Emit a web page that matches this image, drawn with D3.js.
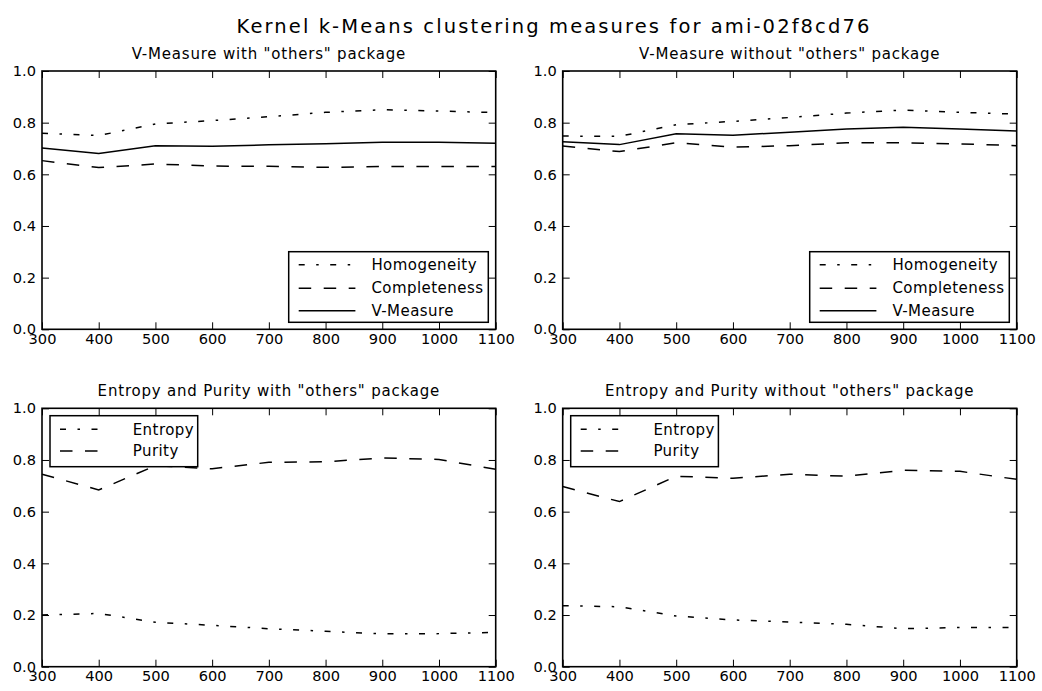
<!DOCTYPE html>
<html lang="en">

<head>
    <meta charset="UTF-8">
    <script src="https://d3js.org/d3.v7.min.js"></script>
    <title>Kernel k-Means clustering measures</title>
    <style>
        body { margin: 0; background: #fff; }
        text { font-family: "DejaVu Sans", sans-serif; fill: #000; }
    </style>
</head>

<body>
    <div id="chart"></div>

    <script>
        // x values (number of clusters / sizes)
        var xValues = [300, 400, 500, 600, 700, 800, 900, 1000, 1100];
        var xTicks = [300, 400, 500, 600, 700, 800, 900, 1000, 1100];
        var yTicks = [0.0, 0.2, 0.4, 0.6, 0.8, 1.0];

        // V-Measure with "others" package
        var homWith = [0.759, 0.750, 0.795, 0.808, 0.823, 0.840, 0.850, 0.845, 0.839];
        var compWith = [0.653, 0.626, 0.640, 0.632, 0.631, 0.627, 0.630, 0.630, 0.630];
        var vmWith = [0.702, 0.681, 0.711, 0.709, 0.714, 0.718, 0.724, 0.724, 0.720];

        // V-Measure without "others" package
        var homWithout = [0.748, 0.747, 0.792, 0.805, 0.820, 0.837, 0.849, 0.840, 0.833];
        var compWithout = [0.710, 0.688, 0.722, 0.705, 0.711, 0.722, 0.722, 0.718, 0.711];
        var vmWithout = [0.726, 0.715, 0.757, 0.751, 0.763, 0.775, 0.782, 0.775, 0.768];

        // Entropy and Purity
        var entWith = [0.200, 0.206, 0.172, 0.160, 0.147, 0.137, 0.127, 0.128, 0.133];
        var purWith = [0.745, 0.684, 0.778, 0.766, 0.791, 0.793, 0.808, 0.802, 0.764];
        var entWithout = [0.236, 0.232, 0.196, 0.181, 0.173, 0.164, 0.147, 0.152, 0.152];
        var purWithout = [0.697, 0.639, 0.737, 0.729, 0.745, 0.737, 0.760, 0.756, 0.725];

        var width = 1042;
        var height = 691;
        var fontSize = 15;

        // line styles like matplotlib: '-.', '--', '-'
        var styles = {
            dashdot: "6,11.5,2.5,11.5",
            dashed: "12.5,12.5",
            solid: null
        };

        var svg = d3.select("#chart").append("svg")
            .attr("width", width)
            .attr("height", height);

        // main title
        svg.append("text")
            .attr("x", 554)
            .attr("y", 32.5)
            .style("text-anchor", "middle")
            .style("font-size", "19.5px")
            .style("letter-spacing", "2.1px")
            .text("Kernel k-Means clustering measures for ami-02f8cd76");

        var cols = [[42, 495.7], [562.7, 1016.7]];
        var rows = [[71, 329.3], [408.3, 666.7]];

        var panels = [
            {
                col: 0, row: 0, title: 'V-Measure with "others" package', legend: "lower right",
                series: [
                    { name: "Homogeneity", values: homWith, dash: styles.dashdot },
                    { name: "Completeness", values: compWith, dash: styles.dashed },
                    { name: "V-Measure", values: vmWith, dash: styles.solid }
                ]
            },
            {
                col: 1, row: 0, title: 'V-Measure without "others" package', legend: "lower right",
                series: [
                    { name: "Homogeneity", values: homWithout, dash: styles.dashdot },
                    { name: "Completeness", values: compWithout, dash: styles.dashed },
                    { name: "V-Measure", values: vmWithout, dash: styles.solid }
                ]
            },
            {
                col: 0, row: 1, title: 'Entropy and Purity with "others" package', legend: "upper left",
                series: [
                    { name: "Entropy", values: entWith, dash: styles.dashdot },
                    { name: "Purity", values: purWith, dash: styles.dashed }
                ]
            },
            {
                col: 1, row: 1, title: 'Entropy and Purity without "others" package', legend: "upper left",
                series: [
                    { name: "Entropy", values: entWithout, dash: styles.dashdot },
                    { name: "Purity", values: purWithout, dash: styles.dashed }
                ]
            }
        ];

        panels.forEach(function (p) {
            var x0 = cols[p.col][0], x1 = cols[p.col][1];
            var y0 = rows[p.row][0], y1 = rows[p.row][1];
            var w = x1 - x0, h = y1 - y0;

            var x = d3.scaleLinear().domain([300, 1100]).range([0, w]);
            var y = d3.scaleLinear().domain([0, 1]).range([h, 0]);

            var g = svg.append("g")
                .attr("transform", "translate(" + x0 + "," + y0 + ")");

            // subplot title
            g.append("text")
                .attr("x", w / 2)
                .attr("y", -12)
                .style("text-anchor", "middle")
                .style("font-size", fontSize + "px")
                .style("letter-spacing", "0.8px")
                .text(p.title);

            // lines
            var line = d3.line()
                .x(function (d, i) { return x(xValues[i]); })
                .y(function (d) { return y(d); });

            p.series.forEach(function (s) {
                g.append("path")
                    .datum(s.values)
                    .attr("fill", "none")
                    .attr("stroke", "#000")
                    .attr("stroke-width", 1.5)
                    .attr("stroke-dasharray", s.dash)
                    .attr("d", line);
            });

            // axes with inward ticks on all four sides
            var bottom = g.append("g")
                .attr("transform", "translate(0," + h + ")")
                .call(d3.axisBottom(x).tickValues(xTicks).tickSizeInner(-7).tickSizeOuter(0).tickPadding(4)
                    .tickFormat(d3.format("d")));
            var top = g.append("g")
                .call(d3.axisTop(x).tickValues(xTicks).tickSizeInner(-7).tickSizeOuter(0).tickFormat(""));
            var left = g.append("g")
                .call(d3.axisLeft(y).tickValues(yTicks).tickSizeInner(-7).tickSizeOuter(0).tickPadding(6)
                    .tickFormat(d3.format(".1f")));
            var right = g.append("g")
                .attr("transform", "translate(" + w + ",0)")
                .call(d3.axisRight(y).tickValues(yTicks).tickSizeInner(-7).tickSizeOuter(0).tickFormat(""));

            [bottom, top, left, right].forEach(function (a) {
                a.select(".domain").remove();
                a.selectAll(".tick line").attr("stroke", "#000").attr("stroke-width", 1);
                a.selectAll(".tick text")
                    .style("font-family", '"DejaVu Sans", sans-serif')
                    .style("font-size", "14.6px")
                    .attr("fill", "#000");
            });

            // frame
            g.append("rect")
                .attr("width", w)
                .attr("height", h)
                .attr("fill", "none")
                .attr("stroke", "#000")
                .attr("stroke-width", 1.6);

            // legend
            var lw, lh, lx, ly, rowY;
            if (p.legend === "lower right") {
                lw = 199.6; lh = 70.6;
                lx = w - 7.4 - lw; ly = h - 7 - lh;
                rowY = [13, 36.5, 59];
            } else {
                lw = 147.7; lh = 51;
                lx = 8; ly = 7.4;
                rowY = [13.6, 35.3];
            }
            var leg = g.append("g").attr("transform", "translate(" + lx + "," + ly + ")");
            leg.append("rect")
                .attr("width", lw)
                .attr("height", lh)
                .attr("fill", "#fff")
                .attr("stroke", "#000")
                .attr("stroke-width", 1.5);

            var lineLen = p.legend === "lower right" ? 56.7 : 46.7;
            p.series.forEach(function (s, i) {
                leg.append("line")
                    .attr("x1", 10)
                    .attr("x2", 10 + lineLen)
                    .attr("y1", rowY[i])
                    .attr("y2", rowY[i])
                    .attr("stroke", "#000")
                    .attr("stroke-width", 1.5)
                    .attr("stroke-dasharray", s.dash);
                leg.append("text")
                    .attr("x", 82.7)
                    .attr("y", rowY[i])
                    .attr("dy", "0.35em")
                    .style("font-size", fontSize + "px")
                    .style("letter-spacing", "0.45px")
                    .text(s.name);
            });
        });
    </script>
</body>

</html>
